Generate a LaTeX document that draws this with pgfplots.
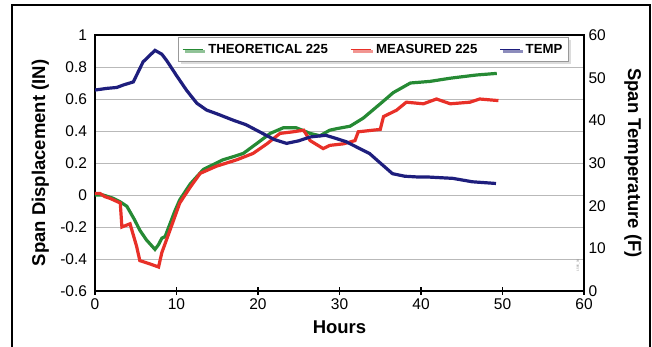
\documentclass[border=0pt]{standalone}
\usepackage{fontspec}
\setmainfont{Liberation Sans}
\usepackage{pgfplots}
\pgfplotsset{compat=1.18}
\usetikzlibrary{shadows}
\definecolor{cgreen}{RGB}{38,138,52}
\definecolor{cred}{RGB}{232,48,40}
\definecolor{cblue}{RGB}{30,30,125}
\begin{document}
\begin{tikzpicture}
\useasboundingbox (0,0) rectangle (652bp,347bp);
\draw[line width=1.6bp] (12bp,-2bp) -- (12bp,342bp) -- (650bp,342bp) -- (650bp,-2bp);
\pgfplotsset{
  common/.style={
    scale only axis, width=489bp, height=256bp,
    at={(95bp,56bp)}, anchor=south west,
    xmin=0, xmax=60,
    /pgf/number format/assume math mode=true,
    tick label style={font=\fontsize{15.5bp}{17bp}\selectfont},
    label style={font=\fontsize{18.5bp}{20bp}\selectfont\bfseries},
    axis line style={line width=1.3bp},
  }
}
\begin{axis}[common,
  ymin=-0.6, ymax=1,
  ytick={-0.6,-0.4,-0.2,0,0.2,0.4,0.6,0.8,1},
  yticklabels={-0.6,-0.4,-0.2,0,0.2,0.4,0.6,0.8,1},
  ytick pos=left, ytick style={draw=none},
  xtick={0,10,20,30,40,50,60}, xtick pos=bottom,
  xtick style={line width=1.3bp, black}, major tick length=7bp, tick align=center,
  ymajorgrids, grid style={gray!55, line width=0.9bp},
  yticklabel style={xshift=-1bp},
  xticklabel style={yshift=-1bp},
  xlabel={Hours}, ylabel={Span Displacement (IN)},
  xlabel style={at={(axis description cs:0.5,-0.14)}, anchor=center},
  ylabel style={at={(axis description cs:-0.112,0.5)}, anchor=center},
  legend columns=3,
  legend image code/.code={\draw[#1, line width=1.3bp] (0bp,0bp) -- (20bp,0bp);},
  legend style={at={(axis description cs:0.169,0.992)}, anchor=north west,
    draw=gray!80, line width=0.8bp, fill=white,
    drop shadow={shadow xshift=2.5bp, shadow yshift=-2.5bp, fill=gray!55},
    font=\fontsize{13.2bp}{15bp}\selectfont\bfseries,
    inner xsep=4bp, inner ysep=4.5bp,
    /tikz/every odd column/.append style={column sep=3bp},
    /tikz/every even column/.append style={column sep=20bp}},
]
\addplot[cgreen, line width=3.2bp] coordinates {
(0,0) (1,0) (2.2,-0.02) (3,-0.04) (3.9,-0.07) (4.8,-0.15) (5.5,-0.22) (6.3,-0.28)
(7.36,-0.34) (7.8,-0.31) (8.2,-0.27) (8.6,-0.26) (9.2,-0.18) (9.8,-0.1) (10.4,-0.03)
(11.7,0.07) (13.3,0.16) (14.5,0.19) (15.7,0.22) (17,0.24) (18.2,0.26) (19.8,0.32)
(21.5,0.385) (23.1,0.42) (24.7,0.42) (26.4,0.385) (27.6,0.37) (28.8,0.405) (29.7,0.415)
(31.3,0.43) (32.9,0.48) (35,0.57) (36.6,0.64) (38.7,0.70) (41.1,0.71) (43.6,0.73)
(46.8,0.75) (49.3,0.76)
};
\addlegendentry{THEORETICAL 225}
\addplot[cred, line width=3.2bp] coordinates {
(0,0.01) (0.6,0.01) (1.2,-0.01) (1.8,-0.02) (3.1,-0.05) (3.3,-0.2) (4.3,-0.18)
(5.1,-0.32) (5.5,-0.41) (6.7,-0.43) (7.8,-0.45) (8.2,-0.36) (9.2,-0.22) (10.4,-0.05)
(11.7,0.05) (12.9,0.135) (14.9,0.18) (17.4,0.22) (19.4,0.26) (21.1,0.32) (22.7,0.385)
(24.3,0.395) (25.6,0.405) (26.4,0.34) (28,0.29) (28.8,0.31) (30.5,0.32) (31.9,0.34)
(32.3,0.395) (35,0.41) (35.4,0.49) (37,0.53) (38.2,0.58) (40.3,0.57) (41.9,0.60)
(43.6,0.57) (46,0.58) (47.2,0.60) (49.5,0.59)
};
\addlegendentry{MEASURED 225}
\addlegendimage{cblue, line width=3.2bp}
\addlegendentry{TEMP}
\end{axis}
\begin{axis}[common,
  ymin=0, ymax=60,
  ytick={0,10,20,30,40,50,60},
  axis y line*=right, axis x line=none,
  ytick style={draw=none},
  yticklabel style={xshift=1bp},
  ylabel={Span Temperature (F)},
  ylabel style={at={(axis description cs:1.100,0.5)}, anchor=center, rotate=180},
]
\addplot[cblue, line width=3.2bp] coordinates {
(0,47.1) (1.5,47.5) (2.66,47.7) (3.5,48.3) (4.7,49) (5.9,53.7) (7.36,56.4) (8.2,55.5)
(8.8,54) (10,50.5) (11.25,47) (12.5,44) (13.7,42.4) (15,41.5) (17,40) (18.5,39)
(20.2,37.3) (22,35.5) (23.5,34.6) (25,35.2) (26.4,36.1) (28.3,36.5) (29.5,35.8)
(30.8,35) (33.7,32.2) (35,30) (36.5,27.5) (38,26.9) (39.8,26.7) (41,26.7)
(43.9,26.4) (46.3,25.6) (49.2,25.2)
};
\node[rotate=90, font=\fontsize{3bp}{3bp}\selectfont, gray] at (axis description cs:0.988,0.1) {1586\_04};
\end{axis}
\end{tikzpicture}
\end{document}
